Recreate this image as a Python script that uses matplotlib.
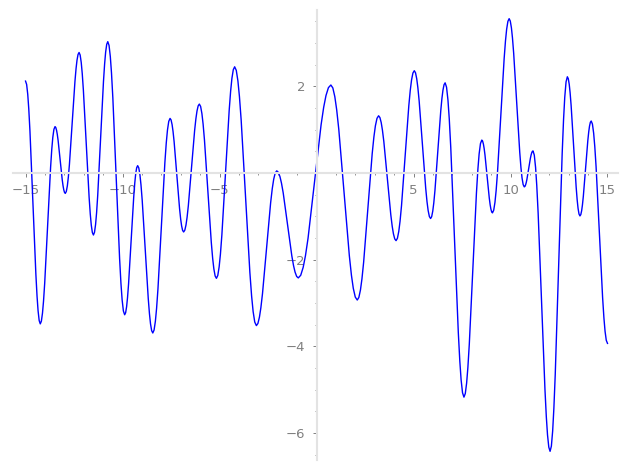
import matplotlib
matplotlib.use('Agg')
import matplotlib.pyplot as plt
from matplotlib.ticker import MultipleLocator

# puntos, una fila por media onda (de un extremo al siguiente)
xs = [
    -15.0, -14.943, -14.886, -14.8328, -14.772, -14.62, -14.468, -14.4072, -14.354, -14.297,
    -14.24, -14.183, -14.126, -14.0728, -14.012, -13.86, -13.708, -13.6472, -13.594, -13.537,
    -13.48, -13.440, -13.4005, -13.3634, -13.321, -13.215, -13.109, -13.0666, -13.0295, -12.990,
    -12.95, -12.897, -12.8435, -12.7938, -12.737, -12.595, -12.453, -12.3962, -12.3465, -12.293,
    -12.24, -12.1845, -12.129, -12.0772, -12.018, -11.87, -11.722, -11.6628, -11.611, -11.5555,
    -11.50, -11.4445, -11.389, -11.3372, -11.278, -11.13, -10.982, -10.9228, -10.871, -10.8155,
    -10.76, -10.6948, -10.6295, -10.5686, -10.499, -10.325, -10.151, -10.0814, -10.0205, -9.9553,
    -9.89, -9.8398, -9.7895, -9.7426, -9.689, -9.555, -9.421, -9.3674, -9.3205, -9.2703,
    -9.22, -9.1615, -9.103, -9.0484, -8.986, -8.83, -8.674, -8.6116, -8.557, -8.4985,
    -8.44, -8.3733, -8.3065, -8.2442, -8.173, -7.995, -7.817, -7.7458, -7.6835, -7.6168,
    -7.55, -7.4975, -7.445, -7.396, -7.34, -7.20, -7.06, -7.004, -6.955, -6.9025,
    -6.85, -6.7893, -6.7285, -6.6718, -6.607, -6.445, -6.283, -6.2182, -6.1615, -6.1008,
    -6.04, -5.974, -5.908, -5.8464, -5.776, -5.60, -5.424, -5.3536, -5.292, -5.226,
    -5.16, -5.0895, -5.019, -4.9532, -4.878, -4.69, -4.502, -4.4268, -4.361, -4.2905,
    -4.22, -4.136, -4.052, -3.9736, -3.884, -3.66, -3.436, -3.3464, -3.268, -3.184,
    -3.10, -3.0213, -2.9425, -2.869, -2.785, -2.575, -2.365, -2.281, -2.2075, -2.1288,
    -2.05, -1.9668, -1.8835, -1.8058, -1.717, -1.495, -1.273, -1.1842, -1.1065, -1.0233,
    -0.94, -0.814, -0.688, -0.5704, -0.436, -0.10, 0.236, 0.3704, 0.488, 0.614,
    0.74, 0.842, 0.944, 1.0392, 1.148, 1.42, 1.692, 1.8008, 1.896, 1.998,
    2.10, 2.1825, 2.265, 2.342, 2.43, 2.65, 2.87, 2.958, 3.035, 3.1175,
    3.20, 3.2675, 3.335, 3.398, 3.47, 3.65, 3.83, 3.902, 3.965, 4.0325,
    4.10, 4.1705, 4.241, 4.3068, 4.382, 4.57, 4.758, 4.8332, 4.899, 4.9695,
    5.04, 5.103, 5.166, 5.2248, 5.292, 5.46, 5.628, 5.6952, 5.754, 5.817,
    5.88, 5.9363, 5.9925, 6.045, 6.105, 6.255, 6.405, 6.465, 6.5175, 6.5738,
    6.63, 6.7028, 6.7755, 6.8434, 6.921, 7.115, 7.309, 7.3866, 7.4545, 7.5273,
    7.60, 7.669, 7.738, 7.8024, 7.876, 8.06, 8.244, 8.3176, 8.382, 8.451,
    8.52, 8.5613, 8.6025, 8.641, 8.685, 8.795, 8.905, 8.949, 8.9875, 9.0288,
    9.07, 9.1345, 9.199, 9.2592, 9.328, 9.50, 9.672, 9.7408, 9.801, 9.8655,
    9.93, 9.9885, 10.047, 10.1016, 10.164, 10.32, 10.476, 10.5384, 10.593, 10.6515,
    10.71, 10.7438, 10.7775, 10.809, 10.845, 10.935, 11.025, 11.061, 11.0925, 11.1263,
    11.16, 11.226, 11.292, 11.3536, 11.424, 11.60, 11.776, 11.8464, 11.908, 11.974,
    12.04, 12.1068, 12.1735, 12.2358, 12.307, 12.485, 12.663, 12.7342, 12.7965, 12.8633,
    12.93, 12.9788, 13.0275, 13.073, 13.125, 13.255, 13.385, 13.437, 13.4825, 13.5313,
    13.58, 13.6235, 13.667, 13.7076, 13.754, 13.87, 13.986, 14.0324, 14.073, 14.1165,
    14.16, 14.223, 14.286, 14.3448, 14.412, 14.58, 14.748, 14.8152, 14.874, 14.937,
    15.0,
]

ys = [
    2.12, 2.043, 1.815, 1.477, 0.966, -0.68, -2.326, -2.837, -3.175, -3.403,
    -3.48, -3.417, -3.232, -2.958, -2.542, -1.205, 0.132, 0.548, 0.822, 1.007,
    1.07, 1.049, 0.986, 0.893, 0.753, 0.30, -0.153, -0.293, -0.386, -0.449,
    -0.47, -0.425, -0.293, -0.097, 0.200, 1.155, 2.110, 2.407, 2.603, 2.735,
    2.78, 2.722, 2.551, 2.297, 1.912, 0.675, -0.562, -0.947, -1.201, -1.372,
    -1.43, -1.368, -1.187, -0.918, -0.511, 0.80, 2.111, 2.518, 2.787, 2.968,
    3.03, 2.943, 2.687, 2.307, 1.732, -0.12, -1.972, -2.547, -2.927, -3.183,
    -3.27, -3.223, -3.083, -2.875, -2.561, -1.55, -0.539, -0.225, -0.017, 0.123,
    0.17, 0.117, -0.040, -0.273, -0.626, -1.76, -2.894, -3.247, -3.480, -3.637,
    -3.69, -3.622, -3.420, -3.122, -2.670, -1.215, 0.240, 0.692, 0.990, 1.192,
    1.26, 1.224, 1.117, 0.959, 0.720, -0.05, -0.820, -1.059, -1.217, -1.324,
    -1.36, -1.319, -1.199, -1.021, -0.752, 0.115, 0.982, 1.251, 1.429, 1.549,
    1.59, 1.535, 1.371, 1.129, 0.761, -0.42, -1.601, -1.969, -2.211, -2.375,
    -2.43, -2.363, -2.164, -1.870, -1.424, 0.01, 1.444, 1.890, 2.184, 2.383,
    2.45, 2.368, 2.125, 1.765, 1.220, -0.535, -2.290, -2.835, -3.195, -3.438,
    -3.52, -3.471, -3.325, -3.110, -2.784, -1.735, -0.686, -0.360, -0.145, 0.001,
    0.05, 0.016, -0.085, -0.234, -0.459, -1.185, -1.911, -2.136, -2.285, -2.386,
    -2.42, -2.359, -2.177, -1.909, -1.503, -0.195, 1.113, 1.519, 1.787, 1.969,
    2.03, 1.962, 1.760, 1.461, 1.008, -0.45, -1.908, -2.361, -2.660, -2.862,
    -2.93, -2.871, -2.698, -2.442, -2.054, -0.805, 0.444, 0.832, 1.088, 1.261,
    1.32, 1.280, 1.163, 0.989, 0.726, -0.12, -0.966, -1.229, -1.403, -1.520,
    -1.56, -1.506, -1.346, -1.110, -0.752, 0.40, 1.552, 1.910, 2.146, 2.306,
    2.36, 2.313, 2.174, 1.969, 1.657, 0.655, -0.347, -0.659, -0.864, -1.003,
    -1.05, -1.007, -0.879, -0.691, -0.405, 0.515, 1.435, 1.721, 1.909, 2.037,
    2.08, 1.980, 1.685, 1.248, 0.586, -1.545, -3.676, -4.338, -4.775, -5.070,
    -5.17, -5.088, -4.847, -4.489, -3.948, -2.205, -0.462, 0.079, 0.437, 0.678,
    0.76, 0.737, 0.668, 0.567, 0.414, -0.08, -0.574, -0.727, -0.828, -0.897,
    -0.92, -0.858, -0.676, -0.406, 0.003, 1.32, 2.637, 3.046, 3.316, 3.498,
    3.56, 3.506, 3.349, 3.115, 2.760, 1.62, 0.480, 0.125, -0.109, -0.266,
    -0.32, -0.309, -0.275, -0.225, -0.149, 0.095, 0.339, 0.415, 0.465, 0.499,
    0.51, 0.414, 0.132, -0.286, -0.918, -2.955, -4.992, -5.624, -6.042, -6.324,
    -6.42, -6.301, -5.949, -5.428, -4.639, -2.10, 0.439, 1.228, 1.749, 2.101,
    2.22, 2.176, 2.045, 1.851, 1.558, 0.615, -0.328, -0.621, -0.815, -0.946,
    -0.99, -0.960, -0.871, -0.739, -0.539, 0.105, 0.749, 0.949, 1.081, 1.170,
    1.20, 1.129, 0.920, 0.611, 0.143, -1.365, -2.873, -3.341, -3.650, -3.859,
    -3.93,
]

xticks = [-15, -10, -5, 5, 10, 15]
yticks = [-6, -4, -2, 2]

gris_eje = '#e3e3e3'
gris_txt = '#808080'

fig = plt.figure(figsize=(6.27, 4.70), dpi=100)
ax = fig.add_axes([0.0203, 0.0213, 0.9653, 0.9574])

ax.plot(xs, ys, color='blue', lw=1.0, solid_joinstyle='round')

ax.set_xlim(-15.66, 15.54)
ax.set_ylim(-6.62, 3.76)

# ejes cruzando en el origen, estilo sage
for lado in ['top', 'right']:
    ax.spines[lado].set_visible(False)
for lado in ['left', 'bottom']:
    ax.spines[lado].set_position(('data', 0))
    ax.spines[lado].set_color(gris_eje)
    ax.spines[lado].set_linewidth(1.5)

ax.set_xticks(xticks)
ax.set_yticks(yticks)
ax.xaxis.set_minor_locator(MultipleLocator(1))
ax.yaxis.set_minor_locator(MultipleLocator(0.5))
ax.tick_params(which='major', length=3, width=0.7, color=gris_txt,
               labelcolor=gris_txt, labelsize=9.5, pad=5)
ax.tick_params(which='minor', length=1.6, width=0.6, color=gris_txt)

fig.savefig('out.png', dpi=100)
